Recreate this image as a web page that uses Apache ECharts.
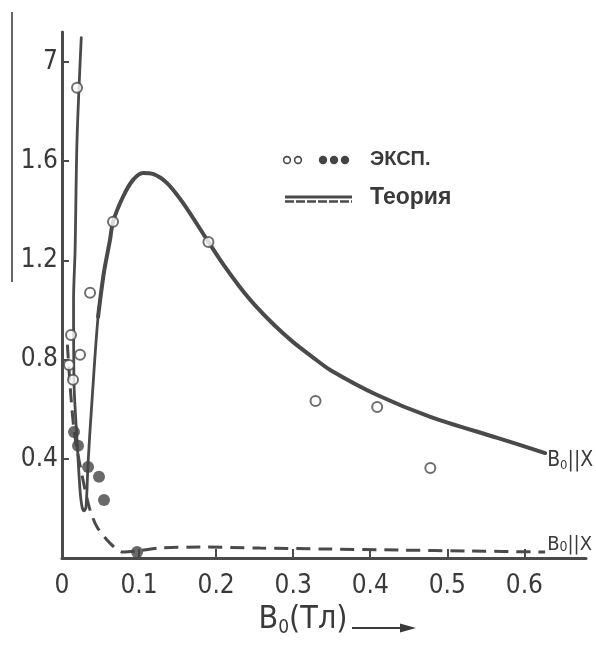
<!DOCTYPE html>
<html><head><meta charset="utf-8">
<script src="https://cdn.jsdelivr.net/npm/echarts@6/dist/echarts.min.js"></script>
<style>html,body{margin:0;padding:0;background:#fff}#c{width:596px;height:648px}</style>
</head><body><div id="c"></div>
<script>
// ---- data ----
const xTicks = [0, 0.1, 0.2, 0.3, 0.4, 0.5, 0.6];
const xTickLabels = ['0', '0.1', '0.2', '0.3', '0.4', '0.5', '0.6'];
const yTicks = [0.4, 0.8, 1.2, 1.6, 2.0];
const yTickLabels = ['0.4', '0.8', '1.2', '1.6', '7'];   // top tick: broken axis, value 7

// theory, B0 || X (solid): steep low-field branch and the main hump
const theorySolidLow = [
  [0.025, 2.097], [0.0195, 1.685], [0.017, 1.242], [0.015, 1.04], [0.0156, 0.706],
  [0.0195, 0.476], [0.0234, 0.274], [0.026, 0.206], [0.0286, 0.19], [0.0312, 0.206],
  [0.0338, 0.383], [0.039, 0.637], [0.0468, 0.972], [0.0545, 1.153]
];
const theorySolidHigh = [
  [0.0468, 0.972], [0.0545, 1.153], [0.0623, 1.282],
  [0.0662, 1.355], [0.0792, 1.456], [0.0922, 1.524], [0.105, 1.552], [0.118, 1.548],
  [0.136, 1.512], [0.157, 1.431], [0.19, 1.274], [0.21, 1.18], [0.23, 1.095],
  [0.25, 1.02], [0.275, 0.94], [0.30, 0.87], [0.325, 0.81], [0.348, 0.758],
  [0.409, 0.657], [0.478, 0.569], [0.565, 0.484], [0.627, 0.423]
];
// theory, second orientation (dashed)
const theoryDashed = [
  [0.007, 0.86], [0.0104, 0.70], [0.0156, 0.516], [0.0221, 0.395], [0.030, 0.274],
  [0.0364, 0.194], [0.0455, 0.125], [0.0623, 0.06], [0.0792, 0.024], [0.097, 0.028],
  [0.127, 0.04], [0.179, 0.044], [0.257, 0.04], [0.348, 0.036], [0.439, 0.032],
  [0.53, 0.028], [0.627, 0.024]
];
// experiment, open circles
const expOpen = [
  [0.0195, 1.895], [0.0364, 1.069], [0.0117, 0.899], [0.0234, 0.819], [0.0091, 0.778],
  [0.0143, 0.718], [0.0662, 1.355], [0.19, 1.274], [0.329, 0.633], [0.409, 0.609],
  [0.478, 0.363]
];
// experiment, filled circles
const expFilled = [
  [0.0156, 0.508], [0.0208, 0.452], [0.0338, 0.367], [0.048, 0.327], [0.0545, 0.234],
  [0.0974, 0.024]
];
const legendExp = 'ЭКСП.';
const legendTheory = 'Теория';
const curveLabel = ['B', '0', '||X'];
const axisName = ['B', '0', '(Тл)'];

// ---- chart ----
const NARROW = "'Liberation Sans Narrow','DejaVu Sans Condensed','Roboto Condensed',Roboto,sans-serif";
const INK = '#4a4a4a';
const TXT = '#3a3a3a';
function lookup(ticks, labels, v) {
  for (let i = 0; i < ticks.length; i++) if (Math.abs(ticks[i] - v) < 1e-6) return labels[i];
  return '';
}
const endLbl = '{a|' + curveLabel[0] + '}{s|' + curveLabel[1] + '}{a|' + curveLabel[2] + '}';

const chart = echarts.init(document.getElementById('c'), null, { renderer: 'canvas' });
chart.setOption({
  animation: false,
  backgroundColor: '#fff',
  grid: { left: 62, right: 10, top: 32, bottom: 90, containLabel: false, outerBoundsMode: 'none' },
  xAxis: {
    type: 'value', min: 0, max: 0.68,
    name: '{b|' + axisName[0] + '}{s|' + axisName[1] + '}{b|' + axisName[2] + '}',
    nameLocation: 'middle', nameGap: 44,
    nameTextStyle: {
      padding: [0, 42, 0, 0],
      rich: {
        b: { fontSize: 32, fontFamily: NARROW, color: TXT },
        s: { fontSize: 19, fontFamily: NARROW, color: TXT, padding: [16, 0, 0, 0] }
      }
    },
    axisLine: { lineStyle: { color: INK, width: 3 } },
    axisTick: { show: true, inside: true, length: 9, lineStyle: { color: INK, width: 2 }, customValues: xTicks.slice(1) },
    axisLabel: {
      customValues: xTicks, margin: 15, fontSize: 26, fontFamily: NARROW, color: TXT,
      formatter: v => lookup(xTicks, xTickLabels, v)
    },
    splitLine: { show: false }
  },
  yAxis: {
    type: 'value', min: 0, max: 2.12,
    axisLine: { show: true, lineStyle: { color: INK, width: 3 } },
    axisTick: { show: true, inside: true, length: 7, lineStyle: { color: INK, width: 2 }, customValues: yTicks },
    axisLabel: {
      customValues: yTicks, margin: 4, fontSize: 26, fontFamily: NARROW, color: TXT,
      formatter: v => lookup(yTicks, yTickLabels, v)
    },
    splitLine: { show: false }
  },
  series: [
    {
      name: 'Теория B0||X', type: 'line', data: theorySolidLow, smooth: 0.3,
      showSymbol: false, lineStyle: { color: INK, width: 2.8, cap: 'round', join: 'round' }, z: 2
    },
    {
      name: 'Теория B0||X ', type: 'line', data: theorySolidHigh, smooth: 0.3,
      showSymbol: false, lineStyle: { color: INK, width: 4, cap: 'round', join: 'round' }, z: 2,
      endLabel: { show: true, formatter: endLbl, distance: 2, offset: [0, 7], rich: {
        a: { fontSize: 21, fontFamily: NARROW, color: TXT },
        s: { fontSize: 13, fontFamily: NARROW, color: TXT, padding: [11, 0, 0, 0] }
      } }
    },
    {
      name: 'Теория (пунктир)', type: 'line', data: theoryDashed, smooth: 0.3,
      showSymbol: false, lineStyle: { color: INK, width: 3, type: [14, 8] }, z: 2,
      endLabel: { show: true, formatter: endLbl, distance: 2, offset: [0, -7], rich: {
        a: { fontSize: 20, fontFamily: NARROW, color: TXT },
        s: { fontSize: 14, fontFamily: NARROW, color: TXT, padding: [5, 0, 0, 0] }
      } }
    },
    {
      name: 'Эксп. (светлые)', type: 'scatter', data: expOpen, symbol: 'circle', symbolSize: 10,
      itemStyle: { color: '#fff', borderColor: INK, borderWidth: 2 }, z: 4
    },
    {
      name: 'Эксп. (тёмные)', type: 'scatter', data: expFilled, symbol: 'circle', symbolSize: 12,
      itemStyle: { color: '#444' }, z: 4
    }
  ],
  graphic: [
    // scan edge line at left
    { type: 'line', shape: { x1: 12, y1: 12, x2: 12, y2: 282 }, style: { stroke: '#666', lineWidth: 2 } },
    // legend
    { type: 'circle', shape: { cx: 287, cy: 160, r: 3.4 }, style: { fill: '#fff', stroke: INK, lineWidth: 1.6 } },
    { type: 'circle', shape: { cx: 298, cy: 160, r: 3.4 }, style: { fill: '#fff', stroke: INK, lineWidth: 1.6 } },
    { type: 'circle', shape: { cx: 323, cy: 160, r: 4.2 }, style: { fill: '#444' } },
    { type: 'circle', shape: { cx: 334, cy: 160, r: 4.2 }, style: { fill: '#444' } },
    { type: 'circle', shape: { cx: 345, cy: 160, r: 4.2 }, style: { fill: '#444' } },
    { type: 'text', left: 370, top: 149, style: { text: legendExp, font: "bold 20px 'Liberation Sans', sans-serif", fill: TXT } },
    { type: 'line', shape: { x1: 285, y1: 197, x2: 352, y2: 197 }, style: { stroke: INK, lineWidth: 3 } },
    { type: 'line', shape: { x1: 285, y1: 201.5, x2: 352, y2: 201.5 }, style: { stroke: INK, lineWidth: 2.5, lineDash: [9, 2] } },
    { type: 'text', left: 370, top: 186, style: { text: legendTheory, font: "bold 23px 'Liberation Sans', sans-serif", fill: TXT } },
    // axis-name arrow
    { type: 'line', shape: { x1: 352, y1: 628, x2: 404, y2: 628 }, style: { stroke: TXT, lineWidth: 2 } },
    { type: 'polygon', shape: { points: [[416, 628], [400, 623.5], [400, 632.5]] }, style: { fill: TXT } }
  ]
});
</script></body></html>
